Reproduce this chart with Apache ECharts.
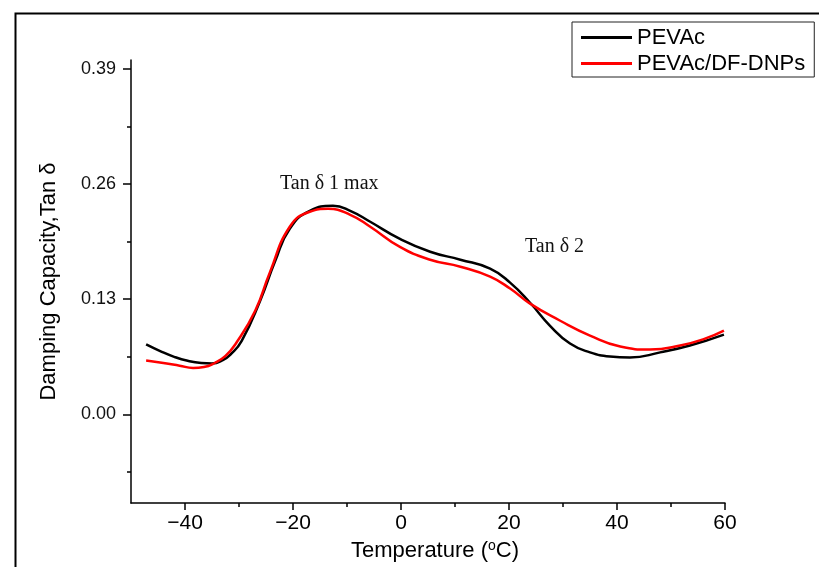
<!DOCTYPE html>
<html>
<head>
<meta charset="utf-8">
<script src="https://cdn.jsdelivr.net/npm/echarts@6/dist/echarts.min.js"></script>
<style>html,body{margin:0;padding:0;background:#fff}#c{width:819px;height:567px}</style>
</head>
<body>
<div id="c"></div>
<script>
// Temperature (°C) and damping (tan δ) readings
const pevacT = [-47.2,-44.6,-42.0,-39.5,-37.0,-35.0,-33.0,-31.5,-29.5,-26.1,-23.3,-20.6,-16.9,-12.6,-9.4,-5.7,-0.2,5.4,11.0,16.5,20.2,23.9,27.6,31.3,35.0,38.7,42.4,48.0,53.5,59.8];
const pevacV = [0.079,0.0715,0.065,0.0605,0.058,0.0575,0.0612,0.068,0.083,0.128,0.173,0.2095,0.2298,0.2354,0.2298,0.2174,0.198,0.1836,0.1746,0.1645,0.1487,0.126,0.100,0.080,0.070,0.0653,0.0642,0.070,0.0777,0.090];
const dnpT = [-47.2,-44.0,-41.0,-38.5,-36.5,-34.5,-32.5,-30.7,-27.0,-24.3,-20.6,-16.9,-13.5,-9.4,-5.7,-0.2,5.4,11.0,16.5,20.2,23.9,29.4,35.0,40.6,46.1,51.7,56.3,59.8];
const dnpV = [0.0608,0.058,0.055,0.0525,0.0535,0.058,0.066,0.0789,0.117,0.160,0.2118,0.2287,0.232,0.2253,0.2118,0.189,0.1746,0.1667,0.1555,0.142,0.125,0.106,0.089,0.0766,0.0732,0.0777,0.0856,0.0946];
const seriesNames = ['PEVAc', 'PEVAc/DF-DNPs'];
const xMajorTicks = [-40,-20,0,20,40,60];
const xMinorTicks = [-30,-10,10,30,50];
const yMajorTicks = [0,0.13,0.26,0.39];
const yMinorTicks = [-0.065,0.065,0.195,0.325];
const annotations = ['Tan δ 1 max', 'Tan δ 2'];

const zip = (a, b) => a.map((t, i) => [t, b[i]]);
const chart = echarts.init(document.getElementById('c'), null, {renderer: 'canvas'});
const sans = 'Liberation Sans, Arial, sans-serif';
const xBase = {
  type: 'value', min: -50, max: 60, splitLine: {show: false}
};
const yBase = {
  type: 'value', min: -0.1, max: 0.4, splitLine: {show: false}
};
chart.setOption({
  animation: false,
  backgroundColor: '#fff',
  grid: {left: 131, right: 94, top: 60, bottom: 63},
  legend: {
    orient: 'vertical', left: 572, top: 22,
    padding: [3, 9, 1, 9],
    borderColor: '#222', borderWidth: 1,
    icon: 'rect',
    itemWidth: 51, itemHeight: 3, itemGap: 1, itemTextGap: 6,
    textStyle: {fontFamily: sans, fontSize: 22, color: '#000', lineHeight: 25},
    data: seriesNames
  },
  xAxis: [
    Object.assign({}, xBase, {
      position: 'bottom',
      name: 'Temperature ({sup|o}C)',
      nameLocation: 'middle', nameGap: 36,
      nameTextStyle: {fontFamily: sans, fontSize: 22, color: '#000', padding: [0, 0, 0, 14],
        rich: {sup: {fontFamily: sans, fontSize: 14, color: '#000', padding: [0, 0, 10, 0]}}},
      axisLine: {onZero: false, lineStyle: {color: '#000', width: 1.5}},
      axisTick: {customValues: xMajorTicks, length: 7, lineStyle: {color: '#000', width: 1.5}},
      axisLabel: {customValues: xMajorTicks, margin: 10, fontFamily: sans, fontSize: 21, color: '#000',
        formatter: v => v < 0 ? '\u2212' + Math.abs(v) : String(v)}
    }),
    Object.assign({}, xBase, {
      position: 'bottom',
      axisLine: {show: false, onZero: false},
      axisTick: {customValues: xMinorTicks, length: 4, lineStyle: {color: '#000', width: 1.5}},
      axisLabel: {show: false}
    })
  ],
  yAxis: [
    Object.assign({}, yBase, {
      position: 'left',
      name: 'Damping Capacity,Tan δ',
      nameLocation: 'middle', nameGap: 71,
      nameTextStyle: {fontFamily: sans, fontSize: 22, color: '#000'},
      axisLine: {show: true, onZero: false, lineStyle: {color: '#000', width: 1.5}},
      axisTick: {show: true, customValues: yMajorTicks, length: 8, lineStyle: {color: '#000', width: 1.5}},
      axisLabel: {customValues: yMajorTicks, margin: 15, fontFamily: sans, fontSize: 18, color: '#111',
        formatter: v => v.toFixed(2)}
    }),
    Object.assign({}, yBase, {
      position: 'left',
      axisLine: {show: false, onZero: false},
      axisTick: {show: true, customValues: yMinorTicks, length: 4, lineStyle: {color: '#000', width: 1.5}},
      axisLabel: {show: false}
    })
  ],
  series: [
    {name: seriesNames[0], type: 'line', smooth: 0.5, symbol: 'none', data: zip(pevacT, pevacV),
      lineStyle: {color: '#000', width: 2.5}, itemStyle: {color: '#000'}, z: 3},
    {name: seriesNames[1], type: 'line', smooth: 0.5, symbol: 'none', data: zip(dnpT, dnpV),
      lineStyle: {color: '#ff0000', width: 2.5}, itemStyle: {color: '#ff0000'}, z: 4}
  ],
  graphic: [
    {type: 'polyline', shape: {points: [[15.5, 567], [15.5, 13.5], [819, 13.5]]},
      style: {stroke: '#000', lineWidth: 2, fill: null}, silent: true},
    {type: 'text', left: 280, top: 174,
      style: {text: annotations[0], font: '20px "Liberation Serif", serif', fill: '#111'}},
    {type: 'text', left: 525, top: 237,
      style: {text: annotations[1], font: '20px "Liberation Serif", serif', fill: '#111'}}
  ]
});
</script>
</body>
</html>
